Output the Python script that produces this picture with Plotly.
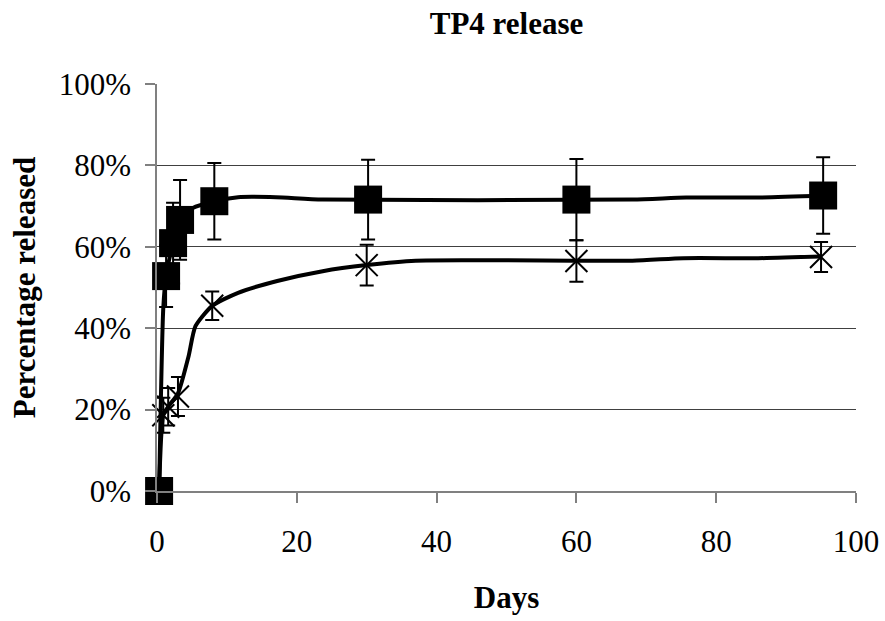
import plotly.graph_objects as go

# Marker data: square series
sq_days = [0.3, 1.3, 2.3, 3.3, 8.2, 30.2, 60.0, 95.3]
sq_vals = [0.0, 52.8, 60.9, 66.6, 71.2, 71.6, 71.6, 72.6]
sq_err = [0.0, 7.6, 9.9, 9.8, 9.4, 9.8, 10.0, 9.4]

# Marker data: cross series
cr_days = [0.3, 0.9, 1.6, 3.0, 7.9, 30.0, 60.0, 95.0]
cr_vals = [0.0, 18.6, 20.7, 23.2, 45.5, 55.5, 56.5, 57.5]
cr_err = [0.0, 4.3, 4.6, 4.8, 3.5, 5.0, 5.1, 3.7]

# Curve through the square series
sq_curve_days = [0.3, 0.9, 1.3, 2.3, 3.3, 5.1, 8.2, 11.6, 17.0, 23.7, 68.0, 75.7, 86.0, 95.3]
sq_curve_vals = [0.0, 45.0, 52.8, 60.9, 66.6, 69.5, 71.2, 72.2, 72.2, 71.6, 71.6, 72.1, 72.1, 72.6]

# Curve through the cross series
cr_curve_days = [0.3, 0.9, 1.6, 3.0, 4.5, 5.5, 7.9, 11.6, 17.2, 23.7, 30.0, 37.0, 68.0, 75.3, 86.0, 95.0]
cr_curve_vals = [0.0, 18.6, 20.7, 24.0, 33.0, 40.5, 45.5, 48.7, 51.6, 54.0, 55.5, 56.6, 56.6, 57.2, 57.2, 57.6]

x_ticks = [0, 20, 40, 60, 80, 100]
y_ticks = [0, 20, 40, 60, 80, 100]
y_tick_labels = ["0%", "20%", "40%", "60%", "80%", "100%"]

FONT = "Liberation Serif"
FS = 31

fig = go.Figure()

fig.add_trace(go.Scatter(
    x=sq_curve_days, y=sq_curve_vals, mode="lines",
    line=dict(color="black", width=4, shape="spline", smoothing=0.6),
    showlegend=False, hoverinfo="skip", cliponaxis=False))
fig.add_trace(go.Scatter(
    x=cr_curve_days, y=cr_curve_vals, mode="lines",
    line=dict(color="black", width=4, shape="spline", smoothing=0.6),
    showlegend=False, hoverinfo="skip", cliponaxis=False))

fig.add_trace(go.Scatter(
    x=sq_days, y=sq_vals, mode="markers", cliponaxis=False,
    marker=dict(symbol="square", size=28, color="black"),
    error_y=dict(type="data", array=sq_err, visible=True, color="black", thickness=2, width=7),
    showlegend=False))
fig.add_trace(go.Scatter(
    x=cr_days, y=cr_vals, mode="markers", cliponaxis=False,
    marker=dict(symbol="x-thin-open", size=22, color="black", line=dict(width=2, color="black")),
    error_y=dict(type="data", array=cr_err, visible=True, color="black", thickness=2, width=7),
    showlegend=False))

fig.update_layout(
    width=885, height=621,
    margin=dict(l=157, r=29, t=84, b=130),
    paper_bgcolor="white", plot_bgcolor="white",
    font=dict(family=FONT, size=FS, color="black"),
    title=dict(text="<b>TP4 release</b>", x=0.5, xref="paper", xanchor="center",
               y=1 - 23 / 621, yref="container", yanchor="middle",
               font=dict(family=FONT, size=FS, color="black")),
    xaxis=dict(
        range=[0, 100], tickvals=x_ticks, ticktext=[str(v) for v in x_ticks],
        showgrid=False, zeroline=False, automargin=False,
        showline=True, linecolor="#808080", linewidth=1.5,
        ticks="outside", ticklen=10, tickcolor="#808080", tickwidth=1.5,
        ticklabelstandoff=12,
        tickfont=dict(family=FONT, size=FS, color="black"),
        title=dict(text="<b>Days</b>", standoff=28,
                   font=dict(family=FONT, size=FS, color="black")),
    ),
    yaxis=dict(
        range=[0, 100], tickvals=y_ticks, ticktext=y_tick_labels,
        showgrid=True, gridcolor="#404040", gridwidth=1, zeroline=False, automargin=False,
        showline=True, linecolor="#808080", linewidth=1.5,
        ticks="outside", ticklen=10, tickcolor="#808080", tickwidth=1.5,
        ticklabelstandoff=8,
        tickfont=dict(family=FONT, size=FS, color="black"),
        title=dict(text="<b>Percentage released</b>", standoff=14,
                   font=dict(family=FONT, size=FS, color="black")),
    ),
)

fig.write_html("out.html", config={"displayModeBar": False},
               post_script="document.body.style.margin='0';document.body.style.overflow='hidden';")
